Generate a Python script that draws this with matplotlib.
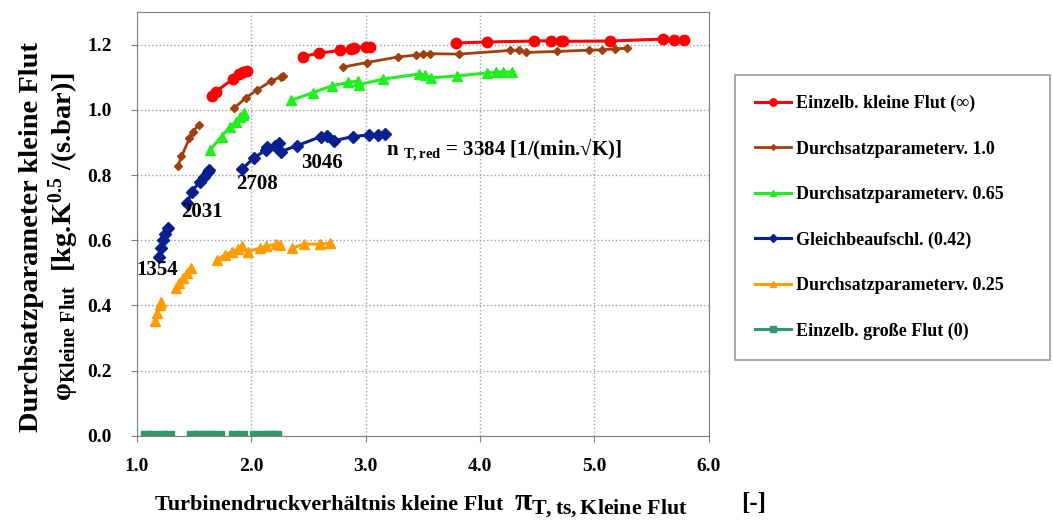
import numpy as np
import matplotlib
matplotlib.use('Agg')
import matplotlib.pyplot as plt

plt.rcParams['font.family'] = ['Liberation Serif', 'DejaVu Serif']
plt.rcParams['font.weight'] = 'bold'
plt.rcParams['axes.labelweight'] = 'bold'
plt.rcParams['mathtext.fontset'] = 'custom'
plt.rcParams['mathtext.rm'] = 'Liberation Serif:bold'
plt.rcParams['mathtext.it'] = 'Liberation Serif:bold'
plt.rcParams['mathtext.bf'] = 'Liberation Serif:bold'
plt.rcParams['mathtext.default'] = 'rm'

nan = np.nan

# Einzelb. kleine Flut (inf)
red_x = [1.66, 1.69, 1.84, 1.89, 1.93, 1.96, nan,
         2.45, 2.59, 2.78, 2.87, 2.90, 3.00, 3.04, nan,
         3.79, 4.06, 4.47, 4.62, 4.71, 4.73, 5.14, 5.60, 5.70, 5.78]
red_y = [1.043, 1.056, 1.094, 1.109, 1.117, 1.120, nan,
         1.163, 1.174, 1.182, 1.186, 1.191, 1.194, 1.194, nan,
         1.205, 1.208, 1.211, 1.212, 1.212, 1.210, 1.211, 1.217, 1.215, 1.215]

# Durchsatzparameterv. 1.0
brown_x = [1.36, 1.39, 1.46, 1.49, 1.54, nan,
           1.85, 1.95, 2.05, 2.17, 2.26, 2.28, nan,
           2.80, 3.01, 3.28, 3.44, 3.50, 3.56, 3.82, 4.26, 4.34, 4.40, 4.67, 4.95, 5.07, 5.18, 5.29]
brown_y = [0.828, 0.857, 0.913, 0.933, 0.954, nan,
           1.005, 1.036, 1.061, 1.087, 1.102, 1.104, nan,
           1.131, 1.145, 1.162, 1.168, 1.171, 1.172, 1.171, 1.182, 1.183, 1.176, 1.179, 1.183, 1.184, 1.187, 1.189]

# Durchsatzparameterv. 0.65
green_x = [1.64, 1.74, 1.81, 1.87, 1.90, 1.93, 1.94, nan,
           2.35, 2.54, 2.71, 2.85, 2.93, 2.94, 3.15, 3.47, 3.52, 3.57, 3.80, 4.06, 4.14, 4.20, 4.28]
green_y = [0.877, 0.918, 0.947, 0.964, 0.978, 0.985, 0.990, nan,
           1.029, 1.053, 1.074, 1.084, 1.088, 1.077, 1.094, 1.110, 1.107, 1.098, 1.104, 1.113, 1.115, 1.115, 1.116]

# Gleichbeaufschl. (0.42)
blue_x = [1.19, 1.21, 1.23, 1.25, 1.27, nan,
          1.44, 1.48, 1.55, 1.59, 1.62, 1.63, nan,
          1.92, 2.02, 2.13, 2.14, 2.21, 2.24, 2.26, 2.40, 2.61, 2.66, 2.72, 2.89, 3.03, 3.11, 3.17]
blue_y = [0.550, 0.576, 0.600, 0.620, 0.637, nan,
          0.714, 0.749, 0.780, 0.795, 0.810, 0.816, nan,
          0.818, 0.852, 0.877, 0.886, 0.890, 0.898, 0.872, 0.890, 0.918, 0.920, 0.905, 0.918, 0.923, 0.923, 0.926]

# Durchsatzparameterv. 0.25
orange_x = [1.16, 1.18, 1.20, 1.21, nan,
            1.34, 1.37, 1.40, 1.44, 1.47, nan,
            1.70, 1.77, 1.83, 1.88, 1.92, 1.97, 2.08, 2.13, 2.22, 2.25, nan,
            2.36, 2.46, 2.60, 2.69]
orange_y = [0.351, 0.376, 0.402, 0.412, nan,
            0.453, 0.468, 0.484, 0.501, 0.514, nan,
            0.540, 0.555, 0.565, 0.573, 0.581, 0.565, 0.576, 0.581, 0.589, 0.586, nan,
            0.576, 0.588, 0.588, 0.591]

# Einzelb. grosse Flut (0)
teal_x = [1.08, 1.13, nan, 1.22, 1.28, nan, 1.48, 1.54, 1.60, 1.66, 1.72, nan,
          1.85, 1.92, nan, 2.03, 2.10, 2.16, 2.22]
teal_y = [0.0, 0.0, nan, 0.0, 0.0, nan, 0.0, 0.0, 0.0, 0.0, 0.0, nan,
          0.0, 0.0, nan, 0.0, 0.0, 0.0, 0.0]

fig = plt.figure(figsize=(10.53, 5.22), dpi=100)
ax = fig.add_axes([0.130, 0.165, 0.543, 0.812])

ax.plot(red_x, red_y, color='#ff0000', marker='o', ms=7.5, lw=2.2, label='Einzelb. kleine Flut (∞)')
ax.plot(brown_x, brown_y, color='#a0400f', marker='D', ms=4, lw=2, label='Durchsatzparameterv. 1.0')
ax.plot(green_x, green_y, color='#22ee22', marker='^', ms=7, lw=2.2, label='Durchsatzparameterv. 0.65')
ax.plot(blue_x, blue_y, color='#0a1f8f', marker='D', ms=6, lw=2.2, label='Gleichbeaufschl. (0.42)')
ax.plot(orange_x, orange_y, color='#ff9d00', marker='^', ms=7, lw=2.2, label='Durchsatzparameterv. 0.25')
ax.plot(teal_x, teal_y, color='#2e9a6a', marker='s', ms=6.5, lw=2.2, label='Einzelb. große Flut (0)')

ax.set_xlim(1.0, 6.0)
ax.set_ylim(0.0, 1.3)
ax.set_xticks(np.arange(1.0, 6.01, 1.0))
ax.set_yticks(np.arange(0.0, 1.21, 0.2))
ax.xaxis.set_major_formatter(plt.FormatStrFormatter('%.1f'))
ax.yaxis.set_major_formatter(plt.FormatStrFormatter('%.1f'))
ax.tick_params(labelsize=14, direction='out', length=4, color='#808080')
ax.tick_params(axis='y', pad=14)
ax.tick_params(axis='x', pad=12)
ax.grid(True, color='#a0a0a0', linestyle=':', linewidth=1)
for s in ax.spines.values():
    s.set_color('#808080')

# x axis title in pieces (main text, symbol, unit)
ax.text(0.031, -0.175, 'Turbinendruckverhältnis kleine Flut', transform=ax.transAxes,
        fontsize=16, ha='left', va='baseline')
ax.text(0.660, -0.175, r'π$_{\mathrm{T,ts,Kleine\ Flut}}$', transform=ax.transAxes,
        fontsize=22.5, ha='left', va='baseline')
ax.text(1.078, -0.175, '[-]', transform=ax.transAxes, fontsize=18, ha='center', va='baseline')

ax.set_ylabel('Durchsatzparameter kleine Flut\n'
              r'φ$_{\mathrm{Kleine\ Flut}}$  [kg.K$^{0.5}$ /(s.bar)]',
              fontsize=20.5, linespacing=1.1)
ax.yaxis.set_label_coords(-0.097, 0.47)

ax.text(1.175, 0.51, '1354', fontsize=15, ha='center', va='center')
ax.text(1.57, 0.687, '2031', fontsize=15, ha='center', va='center')
ax.text(2.05, 0.773, '2708', fontsize=15, ha='center', va='center')
ax.text(2.62, 0.837, '3046', fontsize=15, ha='center', va='center')
ax.text(3.18, 0.877, r'n $_{\mathrm{T,red}}$ = 3384 [1/(min.√K)]', fontsize=15, ha='left', va='center')

leg = fig.legend(loc='upper left', bbox_to_anchor=(0.698, 0.324, 0.299, 0.532), mode='expand',
                 fontsize=13, frameon=True, fancybox=False, edgecolor='#808080', handlelength=2.0,
                 handletextpad=0.3, labelspacing=1.57, borderpad=1.1, borderaxespad=0,
                 markerscale=0.7)
leg.get_frame().set_linewidth(1.2)

fig.savefig('out.png', dpi=100)
